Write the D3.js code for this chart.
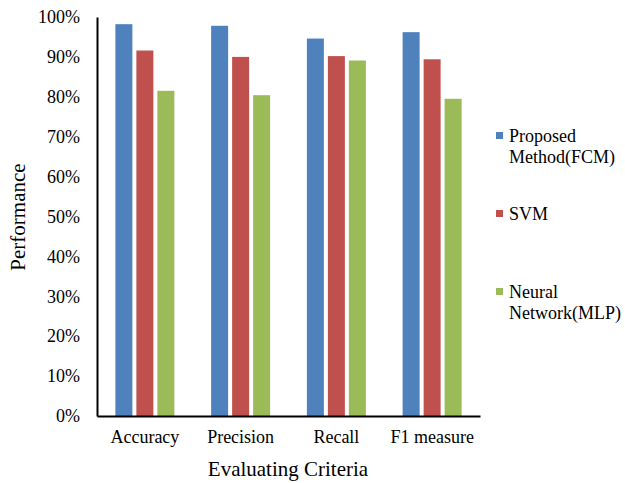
<!DOCTYPE html>
<html>
<head>
<meta charset="utf-8">
<script src="https://cdn.jsdelivr.net/npm/d3@7"></script>
<style>
  body { margin: 0; background: #fff; }
  svg text { font-family: "Liberation Serif", "DejaVu Serif", "Times New Roman", Times, serif; fill: #000; }
</style>
</head>
<body>
<svg width="625" height="483"></svg>
<script>
const categories = ["Accuracy", "Precision", "Recall", "F1 measure"];
const seriesNames = ["Proposed Method(FCM)", "SVM", "Neural Network(MLP)"];
const fcmValues = [98.2, 97.8, 94.6, 96.2];
const svmValues = [91.6, 90.0, 90.2, 89.4];
const mlpValues = [81.5, 80.4, 89.1, 79.5];
const yTicks = [0, 10, 20, 30, 40, 50, 60, 70, 80, 90, 100];
const colors = ["#4f81bd", "#c0504d", "#9bbb59"];
const legendLines = [["Proposed", "Method(FCM)"], ["SVM"], ["Neural", "Network(MLP)"]];

const svg = d3.select("svg");
const area = { left: 97, right: 480, top: 17, bottom: 416 };

const series = [fcmValues, svmValues, mlpValues];

const scX = d3.scaleBand()
    .domain(categories)
    .range([area.left, area.right]);

const scY = d3.scaleLinear()
    .domain([0, 100])
    .range([area.bottom, area.top]);

const barW = 17, gap = 4;
const groupW = barW * 3 + gap * 2;

// bars
series.forEach((vals, i) => {
    svg.selectAll(".bar" + i)
        .data(vals)
        .enter()
        .append("rect")
        .attr("x", (d, j) => scX(categories[j]) + scX.bandwidth() / 2 - groupW / 2 + i * (barW + gap))
        .attr("y", d => scY(d))
        .attr("width", barW)
        .attr("height", d => scY(0) - scY(d))
        .style("fill", colors[i]);
});

// y axis
const axisY = d3.axisLeft(scY)
    .tickValues(yTicks)
    .tickSize(0)
    .tickPadding(17)
    .tickFormat(d => d + "%");

const gY = svg.append("g")
    .attr("transform", `translate(${area.left}, 0)`)
    .call(axisY)
    .attr("font-family", null)
    .attr("font-size", null);
gY.select(".domain").attr("stroke", "#000").attr("stroke-width", 2);
gY.selectAll("text").style("font-size", "18px");

// x axis
const axisX = d3.axisBottom(scX)
    .tickSize(0)
    .tickPadding(14);

const gX = svg.append("g")
    .attr("transform", `translate(0, ${area.bottom})`)
    .call(axisX)
    .attr("font-family", null)
    .attr("font-size", null);
gX.select(".domain").attr("stroke", "#000").attr("stroke-width", 2);
gX.selectAll("text").style("font-size", "18px");

// axis titles
svg.append("text")
    .attr("x", 288)
    .attr("y", 476)
    .attr("text-anchor", "middle")
    .style("font-size", "21px")
    .text("Evaluating Criteria");

svg.append("text")
    .attr("transform", "translate(25, 217) rotate(-90)")
    .attr("text-anchor", "middle")
    .style("font-size", "21px")
    .text("Performance");

// legend
const legendY = [136, 214, 292];
const legend = svg.append("g");
seriesNames.forEach((name, i) => {
    legend.append("rect")
        .attr("x", 496)
        .attr("y", legendY[i] - 4)
        .attr("width", 7)
        .attr("height", 7)
        .style("fill", colors[i]);
    legend.append("text")
        .attr("x", 509)
        .attr("y", legendY[i] + 6)
        .style("font-size", "18px")
        .selectAll("tspan")
        .data(legendLines[i])
        .enter()
        .append("tspan")
        .attr("x", 509)
        .attr("dy", (d, k) => k === 0 ? 0 : 21)
        .text(d => d);
});
</script>
</body>
</html>
